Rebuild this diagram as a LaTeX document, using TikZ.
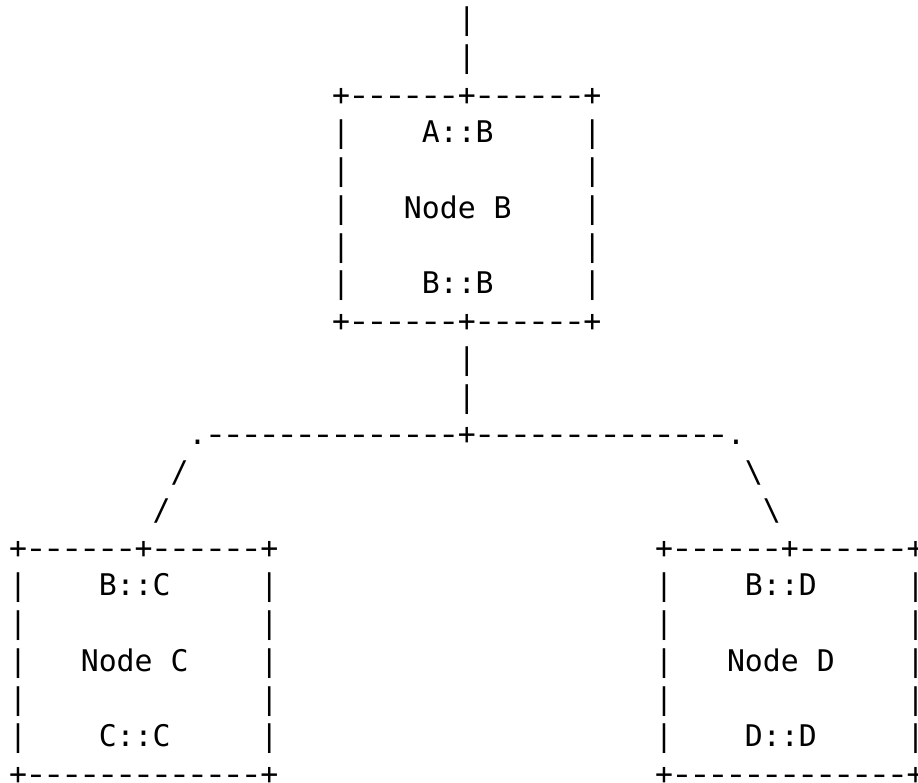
\documentclass[tikz,border=0pt]{standalone}
\usepackage{fontspec}
\usepackage{graphicx}
\newfontfamily\asciifont{DejaVu Sans Mono}
% one hyphen cell: a slightly longer dash, one character wide
\newcommand\hycell{\makebox[0.602em][c]{\scalebox{1.3}[1]{-}}}
% a run of n hyphen cells
\newcommand\hyrun[1]{\foreach \k in {1,...,#1}{\hycell}}
% \asc{name}{column}{row}{text}
\newcommand\asc[4]{\node[ascseg] (#1) at ({9.02+17.95*#2},{753.25-37.75*#3}) {#4};}
\begin{document}
\begin{tikzpicture}[x=1pt,y=1pt,
  ascseg/.style={anchor=base west, inner sep=0pt, outer sep=0pt,
    font=\asciifont\fontsize{29.82}{36}\selectfont, text=black}]
\useasboundingbox (0,0) rectangle (918,783);
\fill[white] (0,0) rectangle (918,783);
% stem into node B
\asc{stemA}{25}{0}{|}
\asc{stemB}{25}{1}{|}
% node B
\asc{bTop}{18}{2}{+\hyrun{6}+\hyrun{6}+}
\asc{bL3}{18}{3}{|}\asc{bIn}{23}{3}{A::B}\asc{bR3}{32}{3}{|}
\asc{bL4}{18}{4}{|}\asc{bR4}{32}{4}{|}
\asc{bL5}{18}{5}{|}\asc{bNa}{22}{5}{Node}\asc{bNb}{27}{5}{B}\asc{bR5}{32}{5}{|}
\asc{bL6}{18}{6}{|}\asc{bR6}{32}{6}{|}
\asc{bL7}{18}{7}{|}\asc{bOut}{23}{7}{B::B}\asc{bR7}{32}{7}{|}
\asc{bBot}{18}{8}{+\hyrun{6}+\hyrun{6}+}
% stem out of node B and fork
\asc{stemC}{25}{9}{|}
\asc{stemD}{25}{10}{|}
\asc{fork}{10}{11}{.\hyrun{14}+\hyrun{14}.}
\asc{slL1}{9}{12}{/}\asc{slR1}{41}{12}{\textbackslash}
\asc{slL2}{8}{13}{/}\asc{slR2}{42}{13}{\textbackslash}
% node C and node D
\asc{cTop}{0}{14}{+\hyrun{6}+\hyrun{6}+}
\asc{dTop}{36}{14}{+\hyrun{6}+\hyrun{6}+}
\asc{cL15}{0}{15}{|}\asc{cIn}{5}{15}{B::C}\asc{cR15}{14}{15}{|}
\asc{dL15}{36}{15}{|}\asc{dIn}{41}{15}{B::D}\asc{dR15}{50}{15}{|}
\asc{cL16}{0}{16}{|}\asc{cR16}{14}{16}{|}
\asc{dL16}{36}{16}{|}\asc{dR16}{50}{16}{|}
\asc{cL17}{0}{17}{|}\asc{cNa}{4}{17}{Node}\asc{cNb}{9}{17}{C}\asc{cR17}{14}{17}{|}
\asc{dL17}{36}{17}{|}\asc{dNa}{40}{17}{Node}\asc{dNb}{45}{17}{D}\asc{dR17}{50}{17}{|}
\asc{cL18}{0}{18}{|}\asc{cR18}{14}{18}{|}
\asc{dL18}{36}{18}{|}\asc{dR18}{50}{18}{|}
\asc{cL19}{0}{19}{|}\asc{cOut}{5}{19}{C::C}\asc{cR19}{14}{19}{|}
\asc{dL19}{36}{19}{|}\asc{dOut}{41}{19}{D::D}\asc{dR19}{50}{19}{|}
\asc{cBot}{0}{20}{+\hyrun{13}+}
\asc{dBot}{36}{20}{+\hyrun{13}+}
\end{tikzpicture}
\end{document}
